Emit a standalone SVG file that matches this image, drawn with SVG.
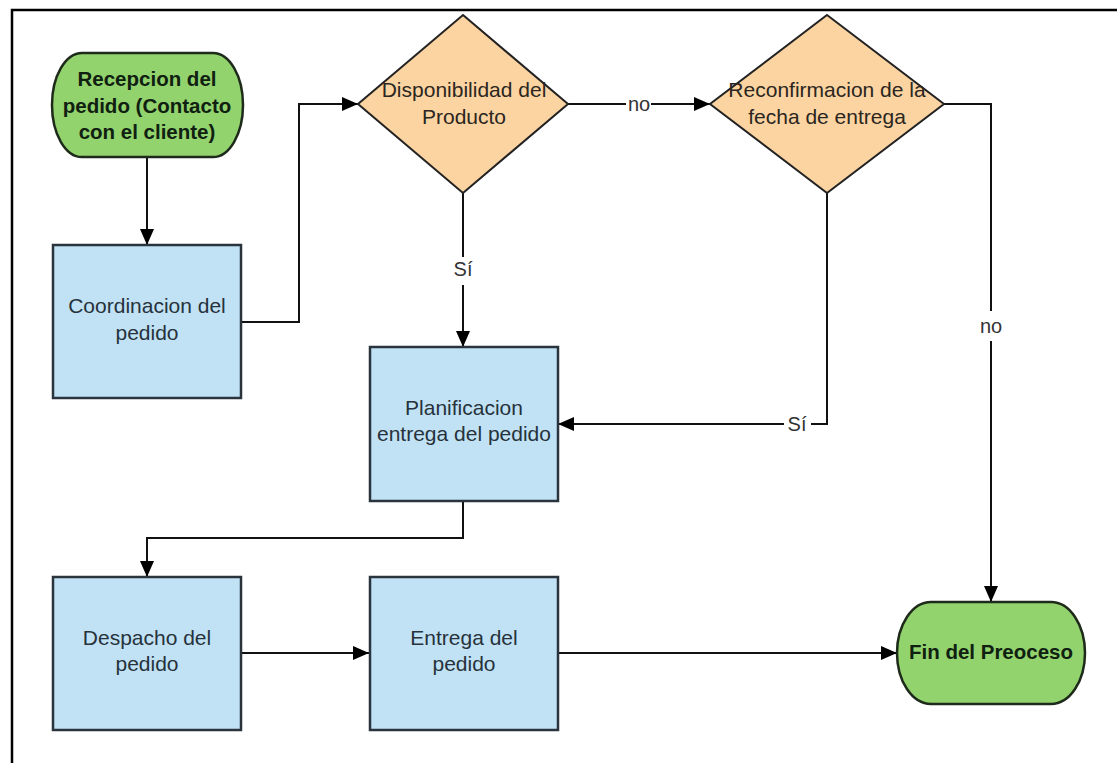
<svg xmlns="http://www.w3.org/2000/svg" width="1117" height="763" viewBox="0 0 1117 763">
<style>
.frame{stroke:#000;stroke-width:2.5;fill:none}
.term{fill:#92d36e;stroke:#1e2a1a;stroke-width:2.5}
.proc{fill:#c1e2f5;stroke:#2b343c;stroke-width:2.5}
.dec{fill:#fbd4a2;stroke:#222;stroke-width:2}
.conn{fill:none;stroke:#111;stroke-width:2}
.t{font-family:"Liberation Sans",Arial,sans-serif;font-size:21px;fill:#27323b;text-anchor:middle}
.tb{font-family:"Liberation Sans",Arial,sans-serif;font-size:20.5px;font-weight:bold;fill:#102010;text-anchor:middle}
.td{font-family:"Liberation Sans",Arial,sans-serif;font-size:21px;fill:#2b2620;text-anchor:middle}
.lbl{font-family:"Liberation Sans",Arial,sans-serif;font-size:20px;fill:#333;text-anchor:middle}
</style>
<defs>
<marker id="arr" viewBox="0 0 16 14" refX="16" refY="7" markerWidth="16" markerHeight="14" markerUnits="userSpaceOnUse" orient="auto">
<path d="M0,0 L16,7 L0,14 z" fill="#000"/>
</marker>
</defs>
<rect width="1117" height="763" fill="#fff"/>
<path class="frame" d="M12,763 V10 H1117"/>

<g id="connectors">
<path class="conn" d="M147,157 V245" marker-end="url(#arr)"/>
<path class="conn" d="M241,322 H299 V104 H358" marker-end="url(#arr)"/>
<path class="conn" d="M568,104 H626 M651,104 H710" marker-end="url(#arr)"/>
<path class="conn" d="M463,193 V257 M463,285 V347" marker-end="url(#arr)"/>
<path class="conn" d="M944,104 H991 V311 M991,341 V602" marker-end="url(#arr)"/>
<path class="conn" d="M827,193 V424 H811 M784,424 H558" marker-end="url(#arr)"/>
<path class="conn" d="M463,501 V538 H147 V577" marker-end="url(#arr)"/>
<path class="conn" d="M241,653 H369" marker-end="url(#arr)"/>
<path class="conn" d="M557,653 H897" marker-end="url(#arr)"/>
<text class="lbl" x="639" y="111">no</text>
<text class="lbl" x="463" y="276">Sí</text>
<text class="lbl" x="991" y="333">no</text>
<text class="lbl" x="797" y="431">Sí</text>
</g>

<g id="recepcion">
<rect class="term" x="52" y="53" width="191" height="104" rx="30" ry="52"/>
<text class="tb" x="147" y="86">Recepcion del</text>
<text class="tb" x="147" y="113">pedido (Contacto</text>
<text class="tb" x="147" y="139">con el cliente)</text>
</g>

<g id="coordinacion">
<rect class="proc" x="53" y="245" width="188" height="153"/>
<text class="t" x="147" y="313">Coordinacion del</text>
<text class="t" x="147" y="340">pedido</text>
</g>

<g id="disponibilidad">
<polygon class="dec" points="463,15 568,104 463,193 358,104"/>
<text class="td" x="464" y="97">Disponibilidad del</text>
<text class="td" x="464" y="124">Producto</text>
</g>

<g id="reconfirmacion">
<polygon class="dec" points="827,15 944,104 827,193 710,104"/>
<text class="td" x="827" y="97">Reconfirmacion de la</text>
<text class="td" x="827" y="124">fecha de entrega</text>
</g>

<g id="planificacion">
<rect class="proc" x="370" y="347" width="188" height="154"/>
<text class="t" x="464" y="415">Planificacion</text>
<text class="t" x="464" y="441">entrega del pedido</text>
</g>

<g id="despacho">
<rect class="proc" x="53" y="577" width="188" height="153"/>
<text class="t" x="147" y="645">Despacho del</text>
<text class="t" x="147" y="671">pedido</text>
</g>

<g id="entrega">
<rect class="proc" x="370" y="577" width="188" height="153"/>
<text class="t" x="464" y="645">Entrega del</text>
<text class="t" x="464" y="671">pedido</text>
</g>

<g id="fin">
<rect class="term" x="897" y="602" width="188" height="102" rx="34" ry="51"/>
<text class="tb" x="991" y="659">Fin del Preoceso</text>
</g>
</svg>
